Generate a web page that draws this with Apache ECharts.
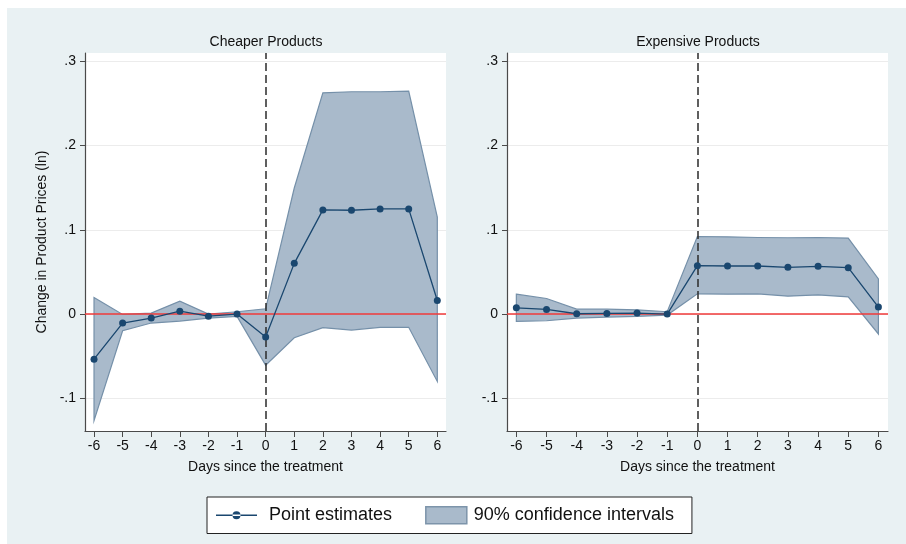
<!DOCTYPE html>
<html>
<head>
<meta charset="utf-8">
<script src="https://cdn.jsdelivr.net/npm/echarts@6/dist/echarts.min.js"></script>
<style>
  html, body { margin: 0; padding: 0; background: #fff; }
  #chart {
    width: 906px; height: 544px;
    background: linear-gradient(#e9f1f3, #e9f1f3) 7px 8px / 899px 536px no-repeat, #fff;
  }
</style>
</head>
<body>
<div id="chart"></div>
<script>
// Event-study estimates: days relative to treatment
const days = [-6, -5, -4, -3, -2, -1, 0, 1, 2, 3, 4, 5, 6];

// Cheaper products
const cheapEst = [-0.0535, -0.0106, -0.0047, 0.0035, -0.0024, 0.0000, -0.0272, 0.0602, 0.1236, 0.1232, 0.1248, 0.1248, 0.0161];
const cheapLo  = [-0.1264, -0.0197, -0.0106, -0.0083, -0.0047, -0.0028, -0.0606, -0.0280, -0.0161, -0.0189, -0.0157, -0.0157, -0.0799];
const cheapHi  = [ 0.0197, -0.0004,  0.0012,  0.0154,  0.0000,  0.0028,  0.0063,  0.1496,  0.2626,  0.2638,  0.2638,  0.2646,  0.1150];

// Expensive products
const expEst = [0.0075, 0.0055, 0.0004, 0.0008, 0.0012, 0.0000, 0.0575, 0.0571, 0.0571, 0.0555, 0.0567, 0.0551, 0.0083];
const expLo  = [-0.0087, -0.0079, -0.0047, -0.0035, -0.0028, -0.0012, 0.0240, 0.0236, 0.0240, 0.0213, 0.0228, 0.0205, -0.0236];
const expHi  = [ 0.0236,  0.0185,  0.0059,  0.0059,  0.0051,  0.0028, 0.0921, 0.0917, 0.0909, 0.0906, 0.0909, 0.0902,  0.0417];

// Axis ticks
const yTicks = [-0.1, 0, 0.1, 0.2, 0.3];
const yTickLabels = ['-.1', '0', '.1', '.2', '.3'];
const xTicks = [-6, -5, -4, -3, -2, -1, 0, 1, 2, 3, 4, 5, 6];

const panelTitles = ['Cheaper Products', 'Expensive Products'];
const xTitle = 'Days since the treatment';
const yTitle = 'Change in Product Prices (ln)';
const estName = 'Point estimates';
const ciName = '90% confidence intervals';

const FONT = '"Liberation Sans", Arial, sans-serif';
const NAVY = '#1a476f';
const BAND_FILL = '#a9bacb';
const BAND_EDGE = '#7590a9';
const AXIS_COLOR = '#4a4a4a';

function fmtY(v) {
  const i = yTicks.findIndex(t => Math.abs(t - v) < 1e-9);
  return i >= 0 ? yTickLabels[i] : '';
}

function makeX(gridIndex, min, max) {
  return {
    type: 'value', gridIndex, min, max,
    name: xTitle, nameLocation: 'middle', nameGap: 29,
    nameTextStyle: { fontFamily: FONT, fontSize: 14, color: '#111' },
    axisLine: { onZero: false, lineStyle: { color: AXIS_COLOR, width: 1.2 } },
    axisTick: { customValues: xTicks, length: 6, lineStyle: { color: AXIS_COLOR } },
    axisLabel: { customValues: xTicks, margin: 8, fontFamily: FONT, fontSize: 14, color: '#111',
                 formatter: v => String(v) },
    splitLine: { show: false }
  };
}

function makeY(gridIndex, withName) {
  return {
    type: 'value', gridIndex, min: -0.1387, max: 0.3098,
    name: withName ? yTitle : '', nameLocation: 'middle', nameGap: 36,
    nameTextStyle: { fontFamily: FONT, fontSize: 14, color: '#111' },
    axisLine: { show: true, onZero: false, lineStyle: { color: AXIS_COLOR, width: 1.2 } },
    axisTick: { show: true, customValues: yTicks, length: 5, lineStyle: { color: AXIS_COLOR } },
    axisLabel: { customValues: yTicks, margin: 9, fontFamily: FONT, fontSize: 14, color: '#111',
                 formatter: fmtY },
    splitLine: { show: true, lineStyle: { color: '#ececec', width: 1 } }
  };
}

function bandSeries(idx, lo, hi) {
  return {
    type: 'custom', name: ciName, xAxisIndex: idx, yAxisIndex: idx, z: 2,
    data: days.map((d, i) => [d, lo[i], hi[i]]),
    encode: { x: 0, y: [1, 2] },
    itemStyle: { color: BAND_FILL },
    silent: true,
    renderItem(params, api) {
      if (params.dataIndex !== 0) return null;
      const pts = [];
      for (let i = 0; i < days.length; i++) pts.push(api.coord([days[i], hi[i]]));
      for (let i = days.length - 1; i >= 0; i--) pts.push(api.coord([days[i], lo[i]]));
      return {
        type: 'polygon',
        shape: { points: pts },
        style: { fill: BAND_FILL, stroke: BAND_EDGE, lineWidth: 1.2 }
      };
    },
    markLine: {
      silent: true, symbol: 'none', z: 5,
      label: { show: false },
      data: [
        { yAxis: 0, lineStyle: { color: '#f03a3a', width: 1.5, type: 'solid' } },
        { xAxis: 0, lineStyle: { color: '#2b2b2b', width: 1.5, type: [8, 4] } }
      ]
    }
  };
}

function estSeries(idx, est) {
  return {
    type: 'line', name: estName, xAxisIndex: idx, yAxisIndex: idx, z: 6,
    data: days.map((d, i) => [d, est[i]]),
    symbol: 'circle', symbolSize: 7, showAllSymbol: true,
    itemStyle: { color: NAVY },
    lineStyle: { color: NAVY, width: 1.3 },
    silent: true
  };
}

// Legend icon: a thin line with a dot in its centre, padded to 41x17
const lineDotIcon = 'path://M0,0h0.01v0.01h-0.01z M40.99,16.99h0.01v0.01h-0.01z M0,7.8h41v1.4h-41z M16.5,8.5a4,4 0 1,0 8,0a4,4 0 1,0 -8,0z';

const chart = echarts.init(document.getElementById('chart'), null, { renderer: 'canvas' });
chart.setOption({
  backgroundColor: 'transparent',
  animation: false,
  title: [
    { text: panelTitles[0], left: 266, top: 35, textAlign: 'center', padding: 0,
      textStyle: { fontFamily: FONT, fontSize: 14, fontWeight: 'normal', color: '#111' } },
    { text: panelTitles[1], left: 698, top: 35, textAlign: 'center', padding: 0,
      textStyle: { fontFamily: FONT, fontSize: 14, fontWeight: 'normal', color: '#111' } }
  ],
  grid: [
    { left: 85, top: 53, width: 361, height: 378, show: true, backgroundColor: '#fff', borderWidth: 0, containLabel: false },
    { left: 507, top: 53, width: 381, height: 378, show: true, backgroundColor: '#fff', borderWidth: 0, containLabel: false }
  ],
  xAxis: [makeX(0, -6.315, 6.304), makeX(1, -6.31, 6.318)],
  yAxis: [makeY(0, true), makeY(1, false)],
  legend: {
    left: 207, top: 497,
    padding: [9, 18, 9, 9],
    itemWidth: 41, itemHeight: 17, itemGap: 33,
    selectedMode: false,
    backgroundColor: '#fff', borderColor: '#222', borderWidth: 1,
    textStyle: { fontFamily: FONT, fontSize: 18, color: '#111', lineHeight: 17 },
    data: [
      { name: estName, icon: lineDotIcon, itemStyle: { color: NAVY },
        textStyle: { padding: [0, 0, 0, 7] } },
      { name: ciName, icon: 'rect', itemStyle: { color: BAND_FILL, borderColor: '#7d94aa', borderWidth: 1.5 },
        textStyle: { padding: [0, 0, 0, 2] } }
    ]
  },
  series: [
    bandSeries(0, cheapLo, cheapHi),
    estSeries(0, cheapEst),
    bandSeries(1, expLo, expHi),
    estSeries(1, expEst)
  ]
});
</script>
</body>
</html>
